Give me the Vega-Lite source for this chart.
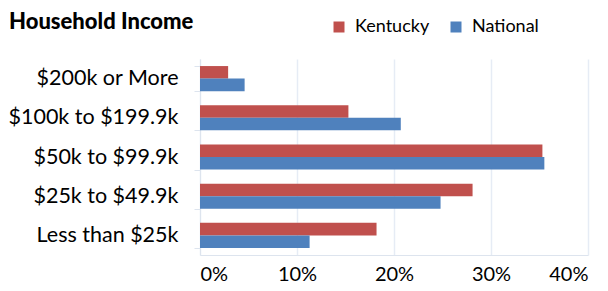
{
  "$schema": "https://vega.github.io/schema/vega-lite/v6.json",
  "width": 388,
  "height": 196,
  "autosize": {"type": "none"},
  "padding": {"left": 200, "top": 59, "right": 20, "bottom": 36},
  "background": "white",
  "title": {
    "text": "Household Income",
    "anchor": "start",
    "frame": "group",
    "dx": -191,
    "dy": 20,
    "fontSize": 22,
    "fontWeight": 900,
    "font": "Lato",
    "color": "#000000"
  },
  "data": {
    "values": [
      {"bracket": "$200k or More", "region": "Kentucky", "pct": 0.029},
      {"bracket": "$200k or More", "region": "National", "pct": 0.046},
      {"bracket": "$100k to $199.9k", "region": "Kentucky", "pct": 0.153},
      {"bracket": "$100k to $199.9k", "region": "National", "pct": 0.207},
      {"bracket": "$50k to $99.9k", "region": "Kentucky", "pct": 0.353},
      {"bracket": "$50k to $99.9k", "region": "National", "pct": 0.355},
      {"bracket": "$25k to $49.9k", "region": "Kentucky", "pct": 0.281},
      {"bracket": "$25k to $49.9k", "region": "National", "pct": 0.248},
      {"bracket": "Less than $25k", "region": "Kentucky", "pct": 0.182},
      {"bracket": "Less than $25k", "region": "National", "pct": 0.113}
    ]
  },
  "mark": {"type": "bar"},
  "encoding": {
    "y": {
      "field": "bracket",
      "type": "nominal",
      "sort": ["$200k or More", "$100k to $199.9k", "$50k to $99.9k", "$25k to $49.9k", "Less than $25k"],
      "scale": {"paddingInner": 0.36, "paddingOuter": 0.18},
      "axis": {
        "title": null,
        "tickBand": "extent",
        "tickSize": 6,
        "tickColor": "#dde4ee",
        "domainColor": "#dde4ee",
        "labelFont": "Lato",
        "labelFontSize": 21.5,
        "labelColor": "#000000",
        "labelPadding": 16
      }
    },
    "yOffset": {"field": "region", "type": "nominal", "sort": ["Kentucky", "National"]},
    "x": {
      "field": "pct",
      "type": "quantitative",
      "scale": {"domain": [0, 0.4]},
      "axis": {
        "title": null,
        "format": ".0%",
        "values": [0, 0.1, 0.2, 0.3, 0.4],
        "grid": true,
        "gridColor": "#e6ecf5",
        "gridWidth": 1.5,
        "domainColor": "#dde4ee",
        "ticks": false,
        "labelFont": "Lato",
        "labelFontSize": 20,
        "labelColor": "#000000",
        "labelPadding": 9
      }
    },
    "color": {
      "field": "region",
      "type": "nominal",
      "scale": {"domain": ["Kentucky", "National"], "range": ["#C0504D", "#4F81BD"]},
      "legend": {
        "title": null,
        "orient": "none",
        "direction": "horizontal",
        "legendX": 130,
        "legendY": -41,
        "symbolType": "square",
        "symbolSize": 121,
        "symbolStrokeWidth": 0,
        "labelFont": "Lato",
        "labelFontSize": 18,
        "labelColor": "#000000",
        "columnPadding": 17,
        "labelOffset": 7
      }
    }
  },
  "config": {"view": {"stroke": null}}
}
